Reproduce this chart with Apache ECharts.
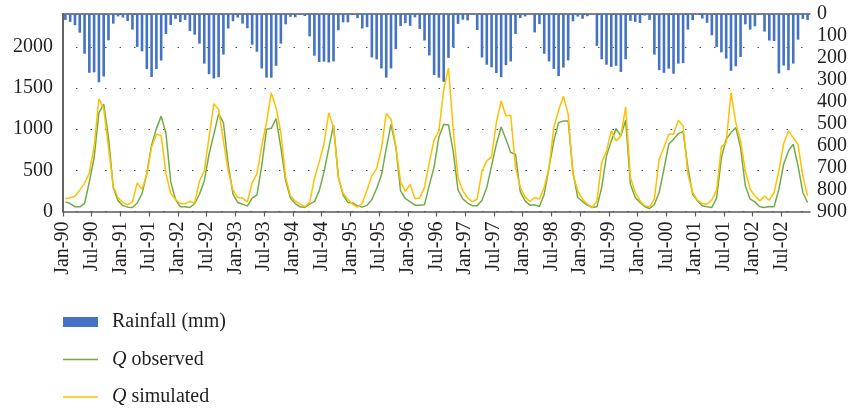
<!DOCTYPE html>
<html>
<head>
<meta charset="utf-8">
<script src="https://cdn.jsdelivr.net/npm/echarts@6/dist/echarts.min.js"></script>
<style>
  html, body { margin: 0; padding: 0; background: #ffffff; }
  #chart { width: 852px; height: 410px; }
</style>
</head>
<body>
<div id="chart"></div>
<script>
// Half-year tick labels along the time axis (one every 6 months, starting Jan-90)
const tickLabels = [
  'Jan-90', 'Jul-90', 'Jan-91', 'Jul-91', 'Jan-92', 'Jul-92', 'Jan-93', 'Jul-93',
  'Jan-94', 'Jul-94', 'Jan-95', 'Jul-95', 'Jan-96', 'Jul-96', 'Jan-97', 'Jul-97',
  'Jan-98', 'Jul-98', 'Jan-99', 'Jul-99', 'Jan-00', 'Jul-00', 'Jan-01', 'Jul-01',
  'Jan-02', 'Jul-02'
];

// Monthly rainfall (mm), Jan 1990 - Dec 2002
const rainfall = [
  27, 36, 51, 85, 181, 268, 266, 311, 285, 120, 44, 11,
  16, 32, 71, 150, 170, 251, 287, 251, 212, 91, 50, 22,
  37, 27, 78, 94, 135, 226, 274, 294, 288, 185, 66, 33,
  16, 44, 65, 140, 172, 248, 290, 290, 236, 135, 47, 13,
  15, 4, 9, 102, 190, 219, 217, 221, 216, 74, 38, 38,
  2, 19, 66, 60, 198, 207, 248, 290, 248, 160, 55, 42,
  54, 15, 68, 121, 189, 278, 290, 309, 200, 152, 45, 26,
  29, 2, 73, 198, 231, 243, 269, 288, 233, 216, 91, 18,
  11, 1, 84, 46, 181, 216, 250, 283, 244, 211, 33, 12,
  22, 10, 1, 145, 206, 231, 241, 236, 264, 206, 31, 36,
  41, 7, 27, 185, 256, 268, 249, 272, 226, 224, 71, 28,
  1, 21, 40, 97, 150, 175, 203, 259, 238, 196, 47, 71,
  56, 1, 80, 121, 123, 271, 235, 256, 226, 117, 23, 27
];

// Observed monthly discharge
const qObserved = [
  117, 97, 57, 57, 97, 360, 653, 1199, 1305, 900, 290, 132,
  71, 53, 49, 103, 218, 461, 805, 1007, 1159, 951, 360, 146,
  57, 57, 49, 97, 210, 372, 696, 938, 1186, 1080, 574, 210,
  109, 89, 65, 162, 202, 554, 999, 1011, 1129, 777, 372, 162,
  97, 57, 49, 90, 120, 250, 480, 770, 1050, 420, 200, 110,
  105, 69, 53, 75, 145, 280, 440, 765, 1058, 785, 250, 158,
  117, 77, 77, 83, 320, 540, 905, 1058, 1054, 724, 259, 154,
  103, 69, 69, 137, 291, 554, 817, 1027, 878, 716, 696, 239,
  129, 77, 81, 61, 210, 534, 858, 1080, 1100, 1100, 473, 170,
  121, 77, 49, 57, 291, 676, 858, 1007, 918, 1108, 332, 170,
  109, 57, 36, 85, 231, 514, 817, 878, 947, 971, 534, 210,
  129, 69, 57, 49, 162, 655, 878, 959, 1019, 777, 312, 150,
  117, 57, 49, 61, 57, 271, 574, 736, 817, 554, 231, 109
];

// Simulated monthly discharge
const qSimulated = [
  154, 168, 186, 260, 342, 470, 790, 1370, 1250, 780, 300, 168,
  111, 80, 117, 346, 269, 450, 785, 940, 924, 460, 218, 145,
  97, 93, 121, 107, 370, 492, 900, 1311, 1240, 860, 494, 259,
  170, 162, 117, 352, 453, 797, 1080, 1444, 1262, 959, 413, 190,
  125, 89, 61, 107, 400, 600, 820, 1200, 1020, 410, 220, 150,
  87, 53, 100, 260, 430, 520, 765, 1190, 1120, 800, 360, 245,
  330, 155, 165, 293, 600, 870, 977, 1480, 1746, 985, 411, 253,
  164, 117, 150, 494, 615, 663, 1080, 1343, 1161, 1169, 534, 291,
  178, 121, 170, 150, 291, 534, 1019, 1230, 1400, 1180, 453, 251,
  150, 89, 49, 129, 595, 736, 979, 858, 918, 1270, 413, 231,
  129, 69, 57, 150, 635, 777, 938, 938, 1108, 1040, 453, 231,
  137, 97, 89, 142, 259, 785, 837, 1444, 1080, 858, 494, 271,
  190, 129, 186, 137, 231, 494, 825, 979, 898, 817, 433, 190
];

// Each month is drawn at the middle of its slot on the month-index axis
const toPoints = arr => arr.map((v, i) => [i + 0.5, v]);

const serif = '"Liberation Serif", "DejaVu Serif", serif';
const textColor = '#231f20';
const axisColor = '#5a5a5a';
const lineIcon = 'path://M0,0 L35,0 L35,1.4 L0,1.4 Z';

const chart = echarts.init(document.getElementById('chart'), null, { renderer: 'canvas' });

chart.setOption({
  animation: false,
  backgroundColor: '#ffffff',
  grid: { left: 63, right: 42, top: 14, bottom: 198.5, containLabel: false },
  legend: {
    orient: 'vertical',
    left: 63,
    top: 312,
    padding: 0,
    itemWidth: 35,
    itemHeight: 10,
    itemGap: 17.5,
    data: [
      { name: 'Rainfall (mm)', icon: 'rect' },
      { name: 'Q observed', icon: lineIcon },
      { name: 'Q simulated', icon: lineIcon }
    ],
    textStyle: {
      fontFamily: serif,
      fontSize: 20,
      lineHeight: 20,
      color: textColor,
      padding: [0, 0, 0, 9],
      rich: {
        q: { fontFamily: serif, fontSize: 20, lineHeight: 20, fontStyle: 'italic', color: textColor }
      }
    },
    formatter: name => name.startsWith('Q ') ? '{q|Q}' + name.slice(1) : name
  },
  xAxis: [
    {
      type: 'value',
      min: 0,
      max: 156,
      interval: 6,
      position: 'bottom',
      axisLine: { show: true, onZero: false, lineStyle: { color: axisColor, width: 1.5 } },
      axisTick: { show: true, length: 5, lineStyle: { color: axisColor, width: 1.2 } },
      splitLine: { show: false },
      axisLabel: {
        rotate: 90,
        margin: 10,
        fontFamily: serif,
        fontSize: 20,
        color: textColor,
        showMaxLabel: false,
        formatter: v => tickLabels[Math.round(v / 6)] || ''
      }
    },
    {
      type: 'value',
      min: 0,
      max: 156,
      position: 'top',
      axisLine: { show: true, onZero: false, lineStyle: { color: axisColor, width: 1.5 } },
      axisTick: { show: false },
      axisLabel: { show: false },
      splitLine: { show: false }
    }
  ],
  yAxis: [
    {
      type: 'value',
      min: 0,
      max: 2400,
      interval: 500,
      position: 'left',
      axisLine: { show: true, lineStyle: { color: axisColor, width: 1.5 } },
      axisTick: { show: false },
      axisLabel: {
        margin: 10,
        fontFamily: serif,
        fontSize: 20,
        color: textColor,
        showMaxLabel: false,
        formatter: v => String(v)
      },
      splitLine: {
        show: true,
        lineStyle: { color: '#505050', width: 1, type: [1.5, 13], dashOffset: 1.5 }
      }
    },
    {
      type: 'value',
      min: 0,
      max: 900,
      interval: 100,
      inverse: true,
      position: 'right',
      axisLine: { show: true, lineStyle: { color: axisColor, width: 1.5 } },
      axisTick: { show: false },
      axisLabel: {
        margin: 7,
        fontFamily: serif,
        fontSize: 20,
        color: textColor,
        formatter: v => String(v)
      },
      splitLine: { show: false }
    }
  ],
  series: [
    {
      name: 'Rainfall (mm)',
      type: 'bar',
      xAxisIndex: 0,
      yAxisIndex: 1,
      barWidth: 2.6,
      itemStyle: { color: '#4472c4' },
      data: toPoints(rainfall)
    },
    {
      name: 'Q observed',
      type: 'line',
      xAxisIndex: 0,
      yAxisIndex: 0,
      symbol: 'none',
      lineStyle: { color: '#70ad47', width: 1.5 },
      itemStyle: { color: '#70ad47' },
      data: toPoints(qObserved)
    },
    {
      name: 'Q simulated',
      type: 'line',
      xAxisIndex: 0,
      yAxisIndex: 0,
      symbol: 'none',
      lineStyle: { color: '#ffc000', width: 1.5 },
      itemStyle: { color: '#ffc000' },
      data: toPoints(qSimulated)
    }
  ]
});
</script>
</body>
</html>
